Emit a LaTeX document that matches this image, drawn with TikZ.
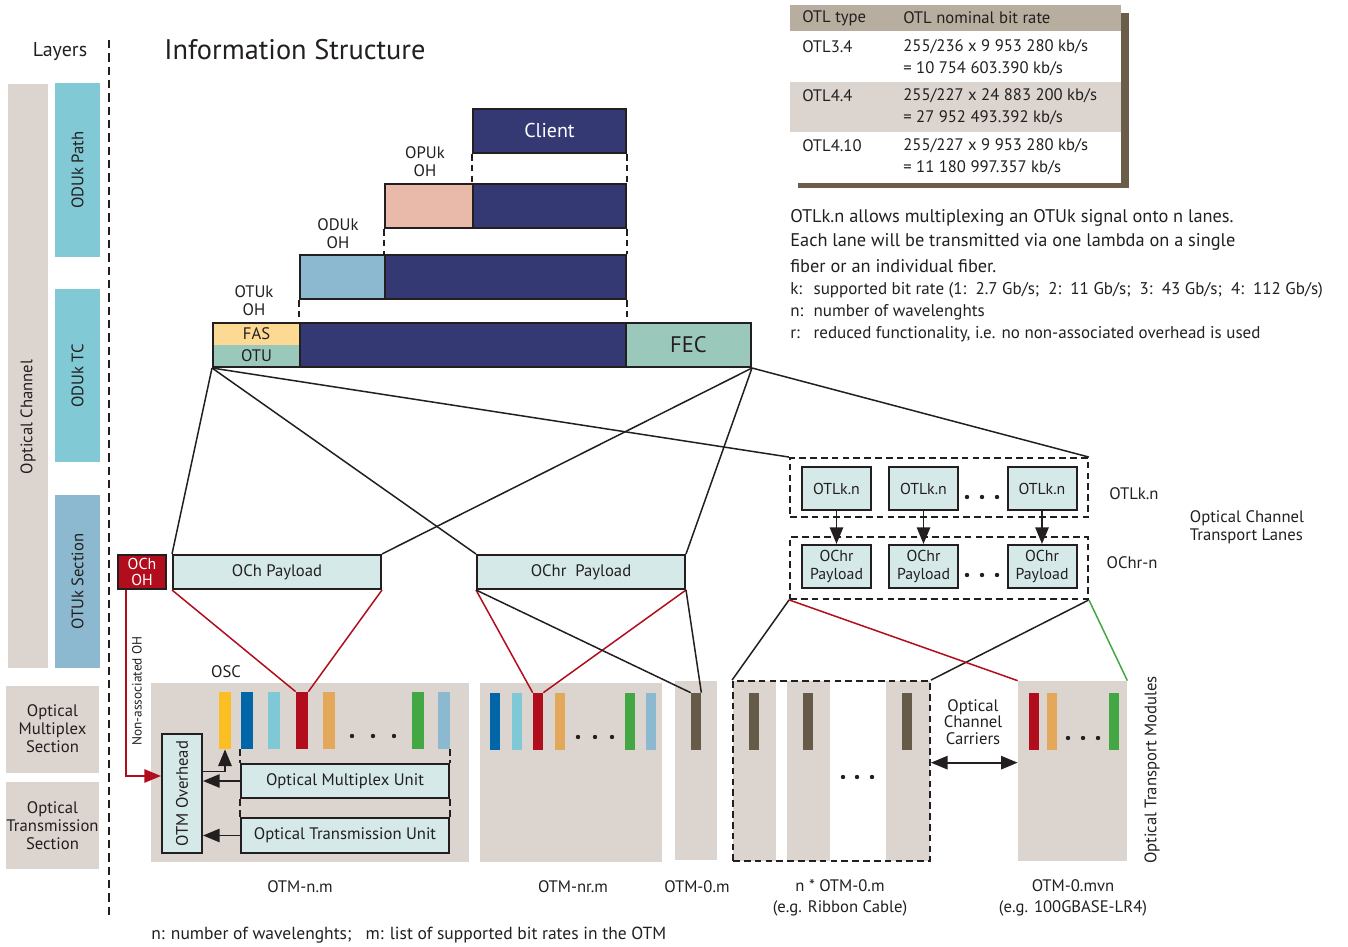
\documentclass[tikz,border=0pt]{standalone}
\usepackage{fontspec}
\setmainfont{PT Sans}
\usepackage{tikz}
\usetikzlibrary{arrows.meta}

\definecolor{txt}{HTML}{231F20}
\definecolor{laygray}{HTML}{DCD5CF}
\definecolor{oducyan}{HTML}{80C9D5}
\definecolor{otublue}{HTML}{8CB9D0}
\definecolor{navy}{HTML}{343873}
\definecolor{opupink}{HTML}{E9B9A9}
\definecolor{fasyellow}{HTML}{FDDA93}
\definecolor{otuteal}{HTML}{9AC8BA}
\definecolor{pale}{HTML}{D6E9E9}
\definecolor{ochred}{HTML}{B20D1D}
\definecolor{oscyellow}{HTML}{FBBF24}
\definecolor{barblue}{HTML}{0066A8}
\definecolor{barcyan}{HTML}{7FC8D6}
\definecolor{barorange}{HTML}{E3A85A}
\definecolor{bargreen}{HTML}{43A843}
\definecolor{brown}{HTML}{665B48}
\definecolor{tabtan}{HTML}{B8AE9F}
\definecolor{tabshadow}{HTML}{6A5E4A}

\tikzset{
  wh/.style 2 args={minimum width=#1*0.6pt, minimum height=#2*0.6pt, inner sep=0pt},
  boxed/.style={draw=txt, line width=1.2pt},
  layer/.style={rotate=90, inner sep=0pt},
  lanebox/.style={boxed, fill=pale, wh={69}{43}, align=center, font=\fontsize{9.5}{10.8}\selectfont},
  dashbox/.style={draw=txt, line width=1.1pt, dash pattern=on 4pt off 2.5pt},
  split/.style={draw=txt, line width=1pt, dash pattern=on 4pt off 2.5pt},
  link/.style={draw=txt, line width=0.9pt},
  redlink/.style={draw=ochred, line width=0.9pt},
  greenlink/.style={draw=bargreen, line width=0.9pt},
  arr/.style={draw=txt, line width=1.1pt, -{Triangle[length=10pt,width=8pt]}},
  bar/.style={minimum width=7.2pt, minimum height=34.2pt, inner sep=0pt},
  thinbar/.style={minimum width=6pt, minimum height=34.2pt, inner sep=0pt},
  cell/.style={anchor=west, inner sep=0pt},
  note/.style={anchor=west, inner sep=0pt, font=\fontsize{11}{12}\selectfont},
  small/.style={anchor=west, inner sep=0pt, font=\fontsize{10.2}{11}\selectfont},
  twolines/.style={align=center, font=\fontsize{10}{10.8}\selectfont}
}

\begin{document}
\begin{tikzpicture}[x=0.6pt, y=-0.6pt, font=\fontsize{10}{11}\selectfont, text=txt]
\useasboundingbox (0,0) rectangle (1348,947);

% layers column
\node (layers) at (60,52) {\fontsize{12}{14}\selectfont Layers};
\draw[txt, line width=1.2pt, dash pattern=on 5pt off 3pt] (109,40) -- (109,915);
\fill[laygray] (8,84) rectangle (48,668);
\node[layer] (optch) at (28,417) {Optical Channel};
\node[layer, fill=oducyan, wh={174}{45}] (odukpath) at (77.5,170) {ODUk Path};
\node[layer, fill=oducyan, wh={173}{45}] (oduktc) at (77.5,376) {ODUk TC};
\node[layer, fill=otublue, wh={173}{45}] (otuksec) at (77.5,581.5) {OTUk Section};
\node[fill=laygray, wh={93}{87}, twolines] (omsec) at (52.5,729) {Optical\\Multiplex\\Section};
\node[fill=laygray, wh={93}{87}, twolines] (otsec) at (52.5,825.5) {Optical\\Transmission\\Section};

% information structure
\node (title) at (295,50) {\fontsize{17}{20}\selectfont Information Structure};
\node[boxed, fill=navy, wh={153}{44}, text=white, font=\fontsize{12}{14}\selectfont] (client) at (549.5,131) {Client};
\node[boxed, fill=opupink, wh={88}{44}] (opukoh) at (429,206) {};
\node[boxed, fill=navy, wh={153}{44}] (opukpl) at (549.5,206) {};
\node[boxed, fill=otublue, wh={85}{44}] (odukoh) at (342.5,277) {};
\node[boxed, fill=navy, wh={241}{44}] (odukpl) at (505.5,277) {};
\node[fill=fasyellow, wh={87}{22}] (fas) at (256.5,334) {FAS};
\node[fill=otuteal, wh={87}{22}] (otuoh) at (256.5,356) {OTU};
\node[boxed, wh={87}{44}] (otuhd) at (256.5,345) {};
\node[boxed, fill=navy, wh={326}{44}] (otupl) at (463,345) {};
\node[boxed, fill=otuteal, wh={125}{44}, font=\fontsize{13.5}{15}\selectfont] (fec) at (688.5,345) {FEC};
\node[twolines] at (425,162) {OPUk\\OH};
\node[twolines] at (338,234) {ODUk\\OH};
\node[twolines] at (254,301) {OTUk\\OH};
\draw[split] (client.south west) -- (opukpl.north west);
\draw[split] (client.south east) -- (opukpl.north east);
\draw[split] (opukoh.south west) -- (odukpl.north west);
\draw[split] (opukpl.south east) -- (odukpl.north east);
\draw[split] (odukoh.south west) -- (otupl.north west);
\draw[split] (odukpl.south east) -- (otupl.north east);

% table
\fill[tabshadow] (798,13) rectangle (1129,188);
\fill[white] (790,5) rectangle (1121,183);
\fill[tabtan] (790,5) rectangle (1121,31);
\fill[laygray] (790,82) rectangle (1121,132);
\node[cell] at (802,18) {OTL type};
\node[cell] at (903,18) {OTL nominal bit rate};
\node[cell] at (802,47) {OTL3.4};
\node[cell] at (903,47) {255/236 x 9 953 280 kb/s};
\node[cell] at (903,69) {= 10 754 603.390 kb/s};
\node[cell] at (802,96) {OTL4.4};
\node[cell] at (903,96) {255/227 x 24 883 200 kb/s};
\node[cell] at (903,118) {= 27 952 493.392 kb/s};
\node[cell] at (802,146) {OTL4.10};
\node[cell] at (903,146) {255/227 x 9 953 280 kb/s};
\node[cell] at (903,168) {= 11 180 997.357 kb/s};

% notes
\node[note] at (790,218) {OTLk.n allows multiplexing an OTUk signal onto n lanes.};
\node[note] at (790,242) {Each lane will be transmitted via one lambda on a single};
\node[note] at (790,266) {fiber or an individual fiber.};
\node[small] at (790,290) {\makebox[14pt][l]{k:}supported bit rate (1:\ \ 2.7 Gb/s;\ \ 2:\ \ 11 Gb/s;\ \ 3:\ \ 43 Gb/s;\ \ 4:\ \ 112 Gb/s)};
\node[small] at (790,312) {\makebox[14pt][l]{n:}number of wavelenghts};
\node[small] at (790,334) {\makebox[14pt][l]{r:}reduced functionality, i.e. no non-associated overhead is used};

% payloads
\node[boxed, fill=ochred, wh={48}{34}, text=white, align=center, font=\fontsize{9.5}{9.5}\selectfont] (ochoh) at (142,572) {OCh\\OH};
\node[boxed, fill=pale, wh={208}{34}] (ochpl) at (277,572) {OCh Payload};
\node[boxed, fill=pale, wh={208}{34}] (ochrpl) at (581,572) {OChr\ \ Payload};

% lanes
\node[dashbox, wh={298}{59}] (otlbox) at (939,487.5) {};
\node[dashbox, wh={298}{62}] (ochrbox) at (939,568) {};
\node[lanebox] (otl1) at (836.5,488.5) {OTLk.n};
\node[lanebox] (otl2) at (923.5,488.5) {OTLk.n};
\node[lanebox] (otl3) at (1042,488.5) {OTLk.n};
\node[lanebox] (ochr1) at (836.5,566.5) {OChr\\Payload};
\node[lanebox] (ochr2) at (923.5,566.5) {OChr\\Payload};
\node[lanebox] (ochr3) at (1042,566.5) {OChr\\Payload};
\foreach \x in {967,982,997} {
  \fill[txt] (\x,497) circle (2.2);
  \fill[txt] (\x,575) circle (2.2);
}
\foreach \i in {1,2,3} \draw[arr] (otl\i) -- (ochr\i);
\node at (1134,494) {OTLk.n};
\node at (1132,563) {OChr-n};
\node[anchor=west, align=left] at (1184,527) {Optical Channel\\Transport Lanes};

% transport modules
\node[fill=laygray, wh={318}{179}] (otmnm) at (310,772.5) {};
\node[fill=laygray, wh={182}{179}] (otmnr) at (571,772.5) {};
\node[fill=laygray, wh={42}{179}] (otmzero) at (696,770.5) {};
\fill[laygray] (733,681) rectangle (776,861);
\fill[laygray] (787,681) rectangle (830,861);
\fill[laygray] (886,681) rectangle (930,861);
\node[dashbox, wh={197}{180}] (ribbon) at (831.5,771) {};
\node[fill=laygray, wh={109}{180}] (mvn) at (1072.5,771) {};

\foreach \x/\c [count=\i] in {225/oscyellow, 247/barblue, 274/barcyan, 302/ochred, 329/barorange, 418/bargreen, 444/otublue}
  \node[bar, fill=\c] (nm\i) at (\x,720.5) {};
\foreach \x/\c [count=\i] in {495/barblue, 517/barcyan, 538/ochred, 560/barorange, 630/bargreen, 651/otublue}
  \node[thinbar, fill=\c] (nr\i) at (\x,721.5) {};
\node[thinbar, fill=brown] (zbar) at (696,721.5) {};
\foreach \x [count=\i] in {754,808,907}
  \node[thinbar, fill=brown] (rb\i) at (\x,721.5) {};
\foreach \x/\c [count=\i] in {1034/ochred, 1052/barorange, 1114/bargreen}
  \node[thinbar, fill=\c] (mv\i) at (\x,721.5) {};
\foreach \x in {352,373,394} \fill[txt] (\x,736) circle (2.2);
\foreach \x in {578,595,612} \fill[txt] (\x,737) circle (2.2);
\foreach \x in {843,857,872} \fill[txt] (\x,777) circle (2.2);
\foreach \x in {1068,1083,1098} \fill[txt] (\x,738) circle (2.2);

\node at (226,672) {OSC};
\node[boxed, fill=pale, layer, wh={119}{40}] (otmoh) at (182,793.5) {OTM Overhead};
\node[boxed, fill=pale, wh={208}{34}] (omu) at (345,781) {Optical Multiplex Unit};
\node[boxed, fill=pale, wh={208}{35}] (otsu) at (345,835.5) {Optical Transmission Unit};
\draw[split] (nm1.south -| omu.west) -- (omu.north west);
\draw[split] (nm1.south -| omu.east) -- (omu.north east);
\draw[split] (omu.south west) -- (otsu.north west);
\draw[split] (omu.south east) -- (otsu.north east);
\draw[arr] (omu.west) -- (omu.west -| otmoh.south);
\draw[arr] (otsu.west) -- (otsu.west -| otmoh.south);
\draw[arr] (otmoh.south) ++(0,-22) -| (nm1.south);

% non-associated overhead
\draw[redlink, line width=1.1pt, -{Triangle[length=10pt,width=8pt]}, ochred]
  (ochoh.south west) ++(9,0) |- ([yshift=10.5pt]otmoh.north);
\node[rotate=90, font=\fontsize{8}{9}\selectfont] at (137,691) {Non-associated OH};

% mapping lines
\draw[link] (otuhd.south west) -- (ochpl.north west);
\draw[link] (otuhd.south west) -- (ochrpl.north west);
\draw[link] (otuhd.south west) -- (otlbox.north west);
\draw[link] (fec.south east) -- (ochpl.north east);
\draw[link] (fec.south east) -- (ochrpl.north east);
\draw[link] (fec.south east) -- (otlbox.north east);
\draw[redlink] (ochpl.south west) -- (nm4.north west);
\draw[redlink] (ochpl.south east) -- (nm4.north east);
\draw[redlink] (ochrpl.south west) -- (nr3.north west);
\draw[redlink] (ochrpl.south east) -- (nr3.north east);
\draw[link] (ochrpl.south west) -- (zbar.north west);
\draw[link] (ochrpl.south east) -- (zbar.north east);
\draw[link] (ochrbox.south west) -- (ribbon.north west);
\draw[link] (ochrbox.south east) -- (ribbon.north east);
\draw[redlink] (ochrbox.south west) -- (mvn.north west);
\draw[greenlink] (ochrbox.south east) -- (mvn.north east);
\draw[arr, {Triangle[length=10pt,width=8pt]}-{Triangle[length=10pt,width=8pt]}] ([yshift=5pt]ribbon.east) -- ([yshift=5pt]mvn.west);

% captions
\node[align=center, font=\fontsize{10}{10}\selectfont] at (973,722) {Optical\\Channel\\Carriers};
\node[rotate=90] at (1152,770) {Optical Transport Modules};
\node at (300,887) {OTM-n.m};
\node at (573,887) {OTM-nr.m};
\node at (697,887) {OTM-0.m};
\node[align=center, font=\fontsize{10}{12.6}\selectfont] at (840,898) {n * OTM-0.m\\(e.g. Ribbon Cable)};
\node[align=center, font=\fontsize{10}{12.6}\selectfont] at (1073,898) {OTM-0.mvn\\(e.g. 100GBASE-LR4)};
\node[anchor=west, inner sep=0pt, font=\fontsize{10.5}{12}\selectfont] at (151,935) {n: number of wavelenghts;\ \ \ m: list of supported bit rates in the OTM};
\end{tikzpicture}
\end{document}
